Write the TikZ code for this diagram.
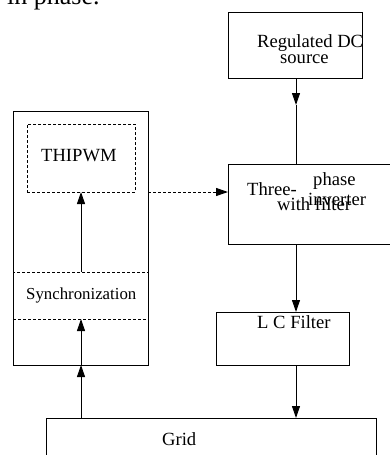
\documentclass[tikz,border=0pt]{standalone}
\usepackage{fontspec}
\setmainfont{Liberation Serif}
\usetikzlibrary{arrows.meta}
\begin{document}
\begin{tikzpicture}[x=1pt,y=-1pt,
  box/.style={draw, line width=1pt, inner sep=0pt, outer sep=0pt},
  dbox/.style={draw, line width=1pt, dash pattern=on 3pt off 2pt, inner sep=0pt, outer sep=0pt},
  lbl/.style={inner sep=0pt, anchor=base west, font=\fontsize{18.6}{20}\selectfont},
  arr/.style={line width=1pt, -{Triangle[length=12pt,width=8pt]}},
  ln/.style={line width=1pt}]
\useasboundingbox (0,0) rectangle (390,455);
\clip (0,0) rectangle (390,455);
% top cut-off text
\node[inner sep=0pt, anchor=base west, font=\fontsize{26}{28}\selectfont] (top) at (7,5) {in phase.};
% boxes
\node[box, minimum width=134pt, minimum height=66pt] (dc) at (295.5,45) {};
\node[box, minimum width=180pt, minimum height=80pt, anchor=north west] (inv) at (228,164) {};
\node[box, minimum width=135pt, minimum height=254pt, anchor=north west] (outer) at (13,111) {};
\node[dbox, minimum width=108pt, minimum height=68pt, anchor=north west] (pwm) at (27,124) {};
\node[dbox, minimum width=135pt, minimum height=47pt, anchor=north west] (sync) at (13,272) {};
\node[box, minimum width=133pt, minimum height=53pt, anchor=north west] (lc) at (216,312) {};
\node[box, minimum width=330pt, minimum height=60pt, anchor=north west] (grid) at (46,418) {};
% texts
\node[lbl] (t1) at (257,47) {Regulated DC};
\node[lbl] (t2) at (280,63) {source};
\node[lbl] (t3) at (41,161) {THIPWM};
\node[lbl, font=\fontsize{16.8}{18}\selectfont] (t4) at (26,299) {Synchronization};
\node[lbl] (t5) at (257,328) {L C Filter};
\node[lbl] (t6) at (162,445) {Grid};
\node[lbl] (t7) at (247,195) {Three-};
\node[lbl] (t8) at (313,185) {phase};
\node[lbl] (t9) at (308,205) {inverter};
\node[lbl] (t10) at (277,210) {with filter};
% connectors
\coordinate (dcmid) at (296,105);
\draw[arr] (dc.south -| dcmid) -- (dcmid);
\draw[ln] (dcmid) -- (dcmid |- inv.north);
\coordinate (invx) at (296,0);
\draw[arr] (inv.south -| invx) -- (lc.north -| invx);
\draw[arr] (lc.south -| invx) -- (grid.north -| invx);
\coordinate (leftx) at (81,0);
\draw[arr] (grid.north -| leftx) -- (outer.south -| leftx);
\draw[arr] (outer.south -| leftx) -- (sync.south -| leftx);
\draw[arr] (sync.north -| leftx) -- (pwm.south -| leftx);
\draw[arr, dash pattern=on 3pt off 2pt] (outer.east |- pwm.south) -- (inv.west |- pwm.south);
\end{tikzpicture}
\end{document}
